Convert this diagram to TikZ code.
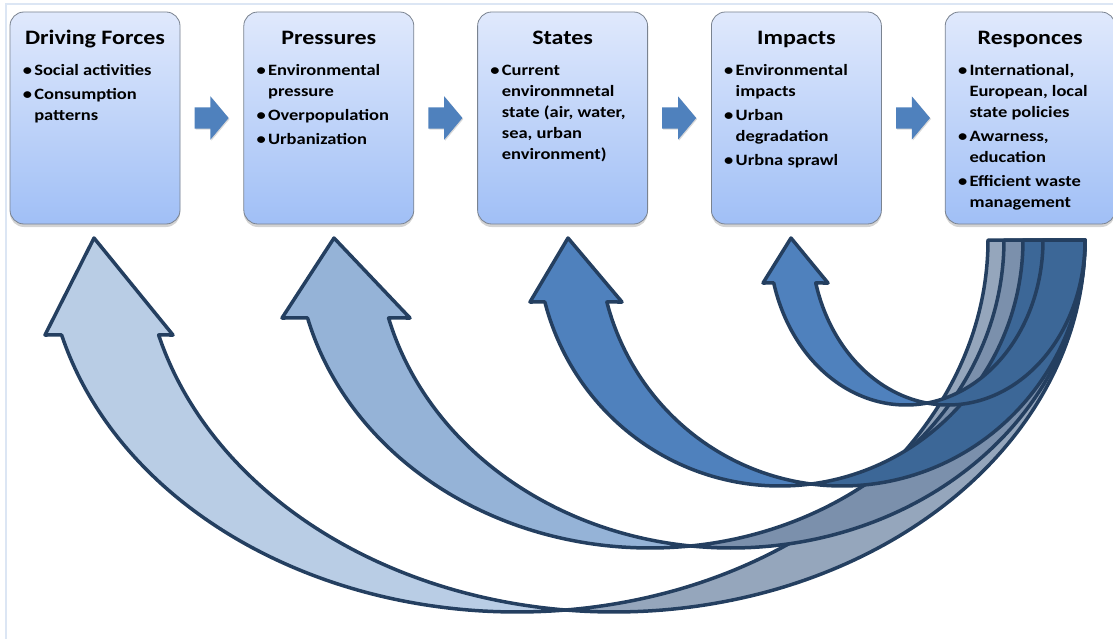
\documentclass[tikz,border=0pt]{standalone}
\usepackage{fontspec}
\setmainfont{Carlito}[FakeStretch=1.17]
\usetikzlibrary{positioning}
\usetikzlibrary{shapes.arrows}
\usetikzlibrary{shadows}

\definecolor{boxtop}{HTML}{E0E9FC}
\definecolor{boxbottom}{HTML}{A0BFF6}
\definecolor{boxline}{HTML}{7A8390}
\definecolor{stepblue}{HTML}{4F81BD}
\definecolor{curveline}{HTML}{243F60}
\definecolor{frameline}{HTML}{DCE6F4}
\definecolor{arrowA}{HTML}{B9CDE5}
\definecolor{arrowAback}{HTML}{95A6BC}
\definecolor{arrowB}{HTML}{95B3D7}
\definecolor{arrowBback}{HTML}{7B90AC}
\definecolor{arrowC}{HTML}{4F81BD}
\definecolor{arrowCback}{HTML}{3C6797}

\newcommand{\bul}{\makebox[11.5pt][l]{\textbullet}}
\newcommand{\ind}{\hspace*{11.5pt}}

\begin{document}
\begin{tikzpicture}[x=1pt, y=-1pt,
        stagebox/.style={
            rectangle, rounded corners=14pt,
            minimum width=170pt, minimum height=212pt,
            draw=boxline, thick,
            top color=boxtop, bottom color=boxbottom,
            drop shadow={shadow xshift=0pt, shadow yshift=-3pt, opacity=0.35},
        },
        stagetitle/.style={anchor=base, font=\fontsize{20.5}{24}\selectfont\bfseries},
        stagelist/.style={anchor=base west, inner sep=0pt,
            font=\fontsize{15.8}{21}\selectfont\bfseries},
        steparrow/.style={
            single arrow, fill=stepblue, draw=none,
            minimum height=34pt, inner xsep=0pt, inner ysep=10.5pt,
            single arrow head extend=11pt, single arrow head indent=0pt,
            single arrow tip angle=100,
            drop shadow={shadow xshift=1pt, shadow yshift=-1pt, opacity=0.3},
        },
        curvearrow/.style={draw=curveline, line width=3.5pt, line join=round, samples=90},
    ]
    \useasboundingbox (0,0) rectangle (1113,639);
    \draw[frameline, line width=2pt] (6,639) -- (6,4) -- (1113,4);

    % the five stages
    \node (drv) at(95,118) [stagebox] {};
    \node (prs) [stagebox, right=63pt of drv] {};
    \node (sta) [stagebox, right=63pt of prs] {};
    \node (imp) [stagebox, right=63pt of sta] {};
    \node (rsp) [stagebox, right=63pt of imp] {};

    \node (drv-t) at([yshift=-33pt]drv.north) [stagetitle] {Driving Forces};
    \node (prs-t) at([yshift=-33pt]prs.north) [stagetitle] {Pressures};
    \node (sta-t) at([yshift=-33pt]sta.north) [stagetitle] {States};
    \node (imp-t) at([yshift=-33pt]imp.north) [stagetitle] {Impacts};
    \node (rsp-t) at([yshift=-33pt]rsp.north) [stagetitle] {Responces};

    \node (drv-l) at([xshift=13pt, yshift=-64pt]drv.north west) [stagelist] {%
        \begin{tabular}[t]{@{}l@{}}
        \bul Social activities\\[3pt]
        \bul Consumption\\
        \ind patterns
        \end{tabular}};
    \node (prs-l) at([xshift=13pt, yshift=-64pt]prs.north west) [stagelist] {%
        \begin{tabular}[t]{@{}l@{}}
        \bul Environmental\\
        \ind pressure\\[3pt]
        \bul Overpopulation\\[3pt]
        \bul Urbanization
        \end{tabular}};
    \node (sta-l) at([xshift=13pt, yshift=-64pt]sta.north west) [stagelist] {%
        \begin{tabular}[t]{@{}l@{}}
        \bul Current\\
        \ind environmnetal\\
        \ind state (air, water,\\
        \ind sea, urban\\
        \ind environment)
        \end{tabular}};
    \node (imp-l) at([xshift=13pt, yshift=-64pt]imp.north west) [stagelist] {%
        \begin{tabular}[t]{@{}l@{}}
        \bul Environmental\\
        \ind impacts\\[3pt]
        \bul Urban\\
        \ind degradation\\[3pt]
        \bul Urbna sprawl
        \end{tabular}};
    \node (rsp-l) at([xshift=13pt, yshift=-64pt]rsp.north west) [stagelist] {%
        \begin{tabular}[t]{@{}l@{}}
        \bul International,\\
        \ind European, local\\
        \ind state policies\\[3pt]
        \bul Awarness,\\
        \ind education\\[3pt]
        \bul Efficient waste\\
        \ind management
        \end{tabular}};

    % small arrows between the stages
    \node (s1) [steparrow, right=14pt of drv] {};
    \node (s2) [steparrow, right=14pt of prs] {};
    \node (s3) [steparrow, right=14pt of sta] {};
    \node (s4) [steparrow, right=14pt of imp] {};

    % curved arrows from the responces back to each stage
    \foreach \ea/\eb/\rx/\ry/\hb/\tx/\hl/\hr/\fcol/\bcol in {
        517/614/471/372/335/94/45/173/arrowA/arrowAback,
        650/731/354/308/318/334/282/410/arrowB/arrowBback,
        780/842/243/246/302/568/530/622/arrowC/arrowCback,
        906/948/137/165/283/791/763/828/arrowC/arrowCback%
    }{
        \pgfmathsetmacro{\al}{180-asin((\hb-240)/\ry)}
        \pgfmathsetmacro{\fa}{acos((\eb-\ea)/(2*\rx))}
        \pgfmathsetmacro{\fb}{180-\fa}
        \filldraw[curvearrow, fill=\bcol]
            plot[domain=\fa:0] ({\ea+\rx*cos(\x)}, {240+\ry*sin(\x)})
            -- plot[domain=0:\fb] ({\eb+\rx*cos(\x)}, {240+\ry*sin(\x)})
            -- cycle;
        \filldraw[curvearrow, fill=\fcol]
            (\tx,238) -- (\hl,\hb)
            -- plot[domain=\al:\fa] ({\ea+\rx*cos(\x)}, {240+\ry*sin(\x)})
            -- plot[domain=\fb:\al] ({\eb+\rx*cos(\x)}, {240+\ry*sin(\x)})
            -- (\hr,\hb) -- cycle;
    }
\end{tikzpicture}
\end{document}
